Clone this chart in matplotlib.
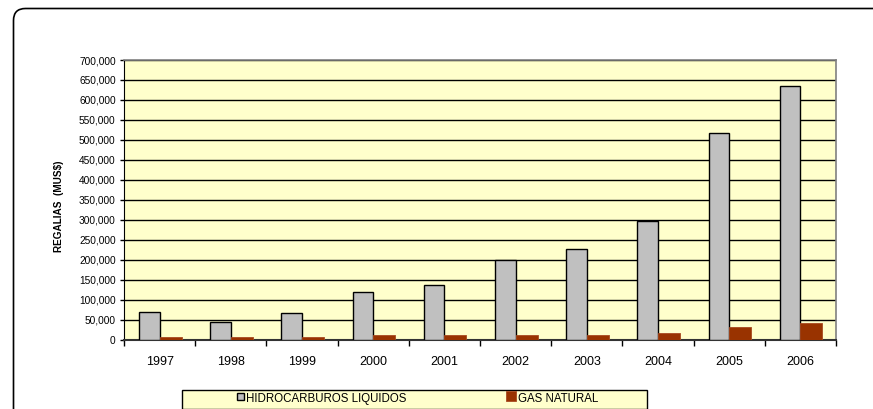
import matplotlib
matplotlib.use("Agg")
import matplotlib.pyplot as plt
from matplotlib.patches import FancyBboxPatch, Rectangle
from matplotlib.ticker import FuncFormatter, FixedLocator
from matplotlib.legend_handler import HandlerPatch

plt.rcParams['font.family'] = ['Liberation Sans', 'DejaVu Sans']

years = ["1997", "1998", "1999", "2000", "2001", "2002", "2003", "2004", "2005", "2006"]
hidrocarburos = [70000, 43000, 66000, 118000, 136000, 200000, 227000, 296000, 517000, 636000]
gas_natural = [6000, 5500, 7000, 10500, 10500, 11000, 12500, 17500, 32000, 42000]
series_names = ["HIDROCARBUROS LIQUIDOS", "GAS NATURAL"]
y_label = "REGALIAS  (MUS$)"

W, H = 873, 409
fig = plt.figure(figsize=(W / 100, H / 100), dpi=100)
fig.patch.set_facecolor("white")

bg = fig.add_axes([0, 0, 1, 1], zorder=0)
bg.set_xlim(0, W)
bg.set_ylim(H, 0)
bg.axis("off")
bg.add_patch(FancyBboxPatch((13.5, 8.5), 900, 440,
                            boxstyle="round,pad=0,rounding_size=12",
                            facecolor="white", edgecolor="black", linewidth=1.2))
bg.add_patch(Rectangle((182, 389.5), 465, 19.5, facecolor="#FFFFCC",
                       edgecolor="black", linewidth=1.0))

ax = fig.add_axes([124 / W, 1 - 339.5 / H, (836 - 124) / W, (339.5 - 60) / H], zorder=1)
ax.set_facecolor("#FFFFCC")

n = len(years)
xs = list(range(n))
bw = 0.29
b1 = ax.bar([x - bw for x in xs], hidrocarburos, width=bw, align="edge",
            color="#C0C0C0", edgecolor="black", linewidth=1.0, zorder=3,
            label=series_names[0])
b2 = ax.bar(xs, gas_natural, width=bw + 0.02, align="edge",
            color="#993300", edgecolor="#A84A20", linewidth=0.6, zorder=3,
            label=series_names[1])

ax.set_xlim(-0.5, n - 0.5)
ax.set_ylim(0, 700000)
ax.set_yticks(range(0, 700001, 50000))
ax.yaxis.set_major_formatter(FuncFormatter(lambda v, p: f"{int(v):,}"))
ax.yaxis.grid(True, color="black", linewidth=1.0, zorder=1)
ax.set_axisbelow(True)

ax.set_xticks(xs)
ax.set_xticklabels(years)
ax.xaxis.set_minor_locator(FixedLocator([x + 0.5 for x in range(-1, n)]))
ax.tick_params(axis="x", which="major", length=0, pad=12, labelsize=9)
ax.tick_params(axis="x", which="minor", length=4, width=1, direction="out", color="black")
ax.tick_params(axis="y", which="major", length=3, width=1, direction="out",
               labelsize=7.3, pad=3)

for side in ["top", "right"]:
    ax.spines[side].set_color("#808080")
    ax.spines[side].set_linewidth(1.2)
ax.spines["left"].set_color("black")
ax.spines["bottom"].set_color("#333333")
ax.spines["bottom"].set_linewidth(1.5)

ax.set_ylabel(y_label, fontsize=7.2, fontweight="bold")
ax.yaxis.set_label_coords(-60 / (836 - 124), 0.478)


def small_square(legend, orig_handle, xdescent, ydescent, width, height, fontsize):
    s = min(width, height) * 0.72
    return Rectangle((xdescent + (width - s) / 2 + 1, ydescent + (height - s) / 2), s, s)


def big_square(legend, orig_handle, xdescent, ydescent, width, height, fontsize):
    s = min(width, height) * 1.05
    return Rectangle((xdescent + (width - s) / 2, ydescent + (height - s) / 2), s, s)


h1 = b1.patches[0]
h2 = b2.patches[0]
leg = fig.legend(handles=[h1, h2], labels=series_names, loc="center",
                 bbox_to_anchor=(416 / W, 1 - 399 / H), ncol=2, frameon=False,
                 fontsize=8.3, handlelength=0.9, handleheight=0.9,
                 handletextpad=0.15, columnspacing=8.6, borderpad=0,
                 handler_map={h1: HandlerPatch(patch_func=small_square),
                              h2: HandlerPatch(patch_func=big_square)})

fig.savefig("out.png", dpi=100)
